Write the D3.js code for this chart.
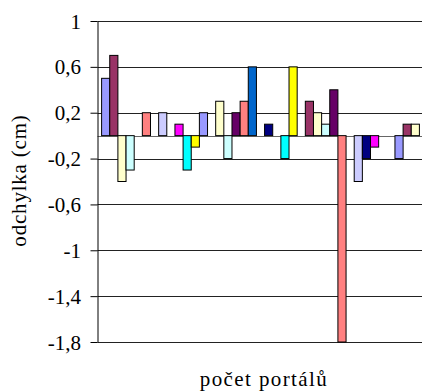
<!DOCTYPE html>
<html>
<head>
<meta charset="utf-8">
<script src="https://cdn.jsdelivr.net/npm/d3@7"></script>
<style>
  body { margin: 0; background: #fff; }
  #wrap { position: relative; width: 423px; height: 392px; overflow: hidden; }
  #wrap svg { position: absolute; left: 0; top: 0; display: block; }
  .lbl {
    position: absolute;
    font-family: "Liberation Serif", "Times New Roman", serif;
    font-size: 21px;
    line-height: 21px;
    color: #000;
    white-space: nowrap;
  }
</style>
</head>
<body>
<div id="wrap"><svg id="chart"></svg></div>
<script>
// odchylka jednotlivych mereni (cm), v poradi jak jsou v grafu
const deviations = [
  0.5, 0.7, -0.4, -0.3, 0, 0.2, 0, 0.2, 0, 0.1, -0.3, -0.1,
  0.2, 0, 0.3, -0.2, 0.2, 0.3, 0.6, 0, 0.1, 0, -0.2, 0.6,
  0, 0.3, 0.2, 0.1, 0.4, -1.8, 0, -0.4, -0.2, -0.1, 0, 0,
  -0.2, 0.1, 0.1
];
const seriesNames = deviations.map((d, i) => "" + (i + 1));
const barColors = ["#9999FF", "#993366", "#FFFFCC", "#CCFFFF", "#660066", "#FF8080",
                   "#0066CC", "#CCCCFF", "#000080", "#FF00FF", "#00FFFF", "#FFFF00"];
const yTicks = [1, 0.6, 0.2, -0.2, -0.6, -1, -1.4, -1.8];

let width = 423, height = 392;
var margin = {top: 21, right: 1, bottom: 50, left: 97.5};

let wrap = d3.select("#wrap");
let svg = d3.select("#chart")
    .attr("width", width)
    .attr("height", height);

const xScale = d3.scaleBand()
    .domain(seriesNames)
    .range([101.6, 419.4])
    .padding(0);

const yScale = d3.scaleLinear()
    .domain([-1.8, 1])
    .range([342, margin.top]);

const fmt = d => ("" + d).replace(".", ",");

// horizontal gridlines
svg.append("g")
    .selectAll("line")
    .data(yTicks)
    .enter()
    .append("line")
    .attr("x1", margin.left)
    .attr("x2", width - margin.right)
    .attr("y1", d => Math.round(yScale(d)) + 0.5)
    .attr("y2", d => Math.round(yScale(d)) + 0.5)
    .attr("stroke", "#222")
    .attr("stroke-width", 1);

// zero line
svg.append("line")
    .attr("x1", margin.left)
    .attr("x2", width - margin.right)
    .attr("y1", Math.round(yScale(0)) + 0.5)
    .attr("y2", Math.round(yScale(0)) + 0.5)
    .attr("stroke", "#666")
    .attr("stroke-width", 1);

// bars
svg.append("g")
    .selectAll("rect")
    .data(deviations)
    .enter()
    .append("rect")
    .attr("x", (d, i) => xScale(seriesNames[i]))
    .attr("y", d => yScale(Math.max(0, d)))
    .attr("width", xScale.bandwidth())
    .attr("height", d => Math.abs(yScale(d) - yScale(0)))
    .style("fill", (d, i) => barColors[i % barColors.length])
    .attr("stroke", d => d === 0 ? "none" : "#000")
    .attr("stroke-width", 1);

// y axis (line + ticks), labels are set as html text below
let yAxis = svg.append("g")
    .attr("transform", "translate(" + margin.left + ",0)")
    .call(d3.axisLeft(yScale)
        .tickValues(yTicks)
        .tickSize(7)
        .tickSizeOuter(0)
        .tickFormat(""));
yAxis.select(".domain").attr("stroke", "#000");
yAxis.selectAll(".tick line").attr("stroke", "#000");

// tick labels
wrap.selectAll("div.tick-lbl")
    .data(yTicks)
    .enter()
    .append("div")
    .attr("class", "lbl tick-lbl")
    .style("right", (width - 81) + "px")
    .style("top", d => (yScale(d) - 9.5) + "px")
    .text(fmt);

// axis titles
wrap.append("div")
    .attr("class", "lbl")
    .style("width", "160px")
    .style("text-align", "center")
    .style("letter-spacing", "0.8px")
    .style("left", (19 - 80) + "px")
    .style("top", (180 - 10.5) + "px")
    .style("transform", "rotate(-90deg)")
    .text("odchylka (cm)");

wrap.append("div")
    .attr("class", "lbl")
    .style("width", "200px")
    .style("text-align", "center")
    .style("letter-spacing", "1.4px")
    .style("left", (264 - 100) + "px")
    .style("top", "369px")
    .text("počet portálů");
</script>
</body>
</html>
